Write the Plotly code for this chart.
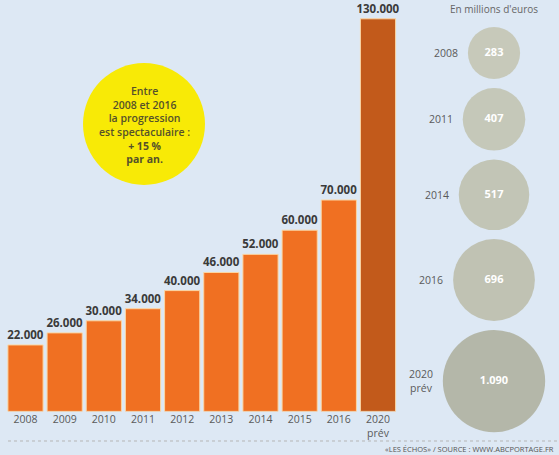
import numpy as np
import plotly.graph_objects as go

# ---- data ----
years = ["2008", "2009", "2010", "2011", "2012", "2013", "2014", "2015", "2016", "2020"]
year_labels = ["2008", "2009", "2010", "2011", "2012", "2013", "2014", "2015", "2016", "2020<br>prév"]
bar_values = [22000, 26000, 30000, 34000, 40000, 46000, 52000, 60000, 70000, 130000]

bubble_years = ["2008", "2011", "2014", "2016", "2020<br>prév"]
bubble_values = [283, 407, 517, 696, 1090]

W, H = 559, 455
BG = "#dde8f4"
FONT = "Open Sans"

bar_colors = ["#f07022"] * 9 + ["#c25a1b"]
bar_text = [f"{v:,}".replace(",", ".") for v in bar_values]

fig = go.Figure()

fig.add_trace(go.Bar(
    x=years, y=bar_values,
    marker=dict(color=bar_colors, line=dict(color="#fbd6a4", width=1)),
    text=bar_text, textposition="outside", cliponaxis=False, constraintext="none",
    textfont=dict(family=FONT, size=11.5, color="#3a3a3a", weight="bold"),
    xaxis="x", yaxis="y", hoverinfo="skip",
))

# bubbles (pixel-space overlay axes)
radii = 1.55 * np.sqrt(np.array(bubble_values, dtype=float))
cx = 494
cy = [53.0]
for i in range(1, len(radii)):
    cy.append(cy[-1] + radii[i - 1] + radii[i] + 9)
bub_colors = ["#bdbca1", "#bbba9f", "#b7b69b", "#b3b297", "#a3a289"]
fig.add_trace(go.Scatter(
    x=[cx] * len(bubble_values), y=cy, mode="markers+text",
    marker=dict(size=2 * radii, sizemode="diameter", color=bub_colors, line=dict(width=0)),
    text=[f"{v:,}".replace(",", ".") for v in bubble_values],
    textposition="middle center",
    textfont=dict(family=FONT, size=11, color="white", weight="bold"),
    xaxis="x2", yaxis="y2", hoverinfo="skip", cliponaxis=False,
))

annotations = []
for yr, r, y in zip(bubble_years, radii, cy):
    annotations.append(dict(
        x=cx - r - 8, y=y, xref="x2", yref="y2", text=yr, showarrow=False,
        xanchor="right", yanchor="middle", align="center",
        font=dict(family=FONT, size=10.5, color="#5a5a5a"),
    ))

annotations.append(dict(
    x=cx, y=9, xref="x2", yref="y2", text="En millions d'euros", showarrow=False,
    xanchor="center", yanchor="middle", font=dict(family=FONT, size=10, color="#666666"),
))

annotations.append(dict(
    x=144, y=125, xref="x2", yref="y2",
    text="Entre<br>2008 et 2016<br>la progression<br>est spectaculaire :<br><b>+ 15 %</b><br><b>par an.</b>",
    showarrow=False, xanchor="center", yanchor="middle", align="center",
    font=dict(family=FONT, size=10.5, color="#55512a", weight=600),
))

annotations.append(dict(
    x=556, y=449, xref="x2", yref="y2",
    text="«LES ÉCHOS» / SOURCE : WWW.ABCPORTAGE.FR", showarrow=False,
    xanchor="right", yanchor="middle", font=dict(family=FONT, size=7.5, color="#555555"),
))

shapes = [
    dict(type="circle", xref="x2", yref="y2", x0=144 - 61, x1=144 + 61, y0=124 - 61, y1=124 + 61,
         fillcolor="#f8ea06", line=dict(width=0), layer="below"),
    dict(type="line", xref="x2", yref="y2", x0=8, x1=559, y0=441, y1=441,
         line=dict(color="#b5b5b5", width=1, dash="dot")),
]

# layout geometry
pitch = (378 - 25.5) / 9
x0 = 25.5 - pitch / 2
x1 = 378 + pitch / 2
base_px = 411.4
px_per_unit = 3.02 / 1000
ytop = base_px / px_per_unit

fig.update_layout(
    width=W, height=H, margin=dict(l=0, r=0, t=0, b=0),
    paper_bgcolor=BG, plot_bgcolor="rgba(0,0,0,0)",
    showlegend=False, bargap=4 / pitch,
    xaxis=dict(domain=[x0 / W, x1 / W], range=[-0.5, 9.5], showgrid=False, zeroline=False,
               showline=False, ticks="", tickvals=years, ticktext=year_labels,
               tickfont=dict(family=FONT, size=10.5, color="#5a5a5a"), anchor="y",
               fixedrange=True),
    yaxis=dict(domain=[(H - base_px) / H, 1], range=[0, ytop], visible=False, anchor="x",
               fixedrange=True),
    xaxis2=dict(domain=[0, 1], range=[0, W], visible=False, anchor="y2", fixedrange=True),
    yaxis2=dict(domain=[0, 1], range=[H, 0], visible=False, anchor="x2", fixedrange=True),
    annotations=annotations, shapes=shapes,
)

fig.write_html("out.html")
